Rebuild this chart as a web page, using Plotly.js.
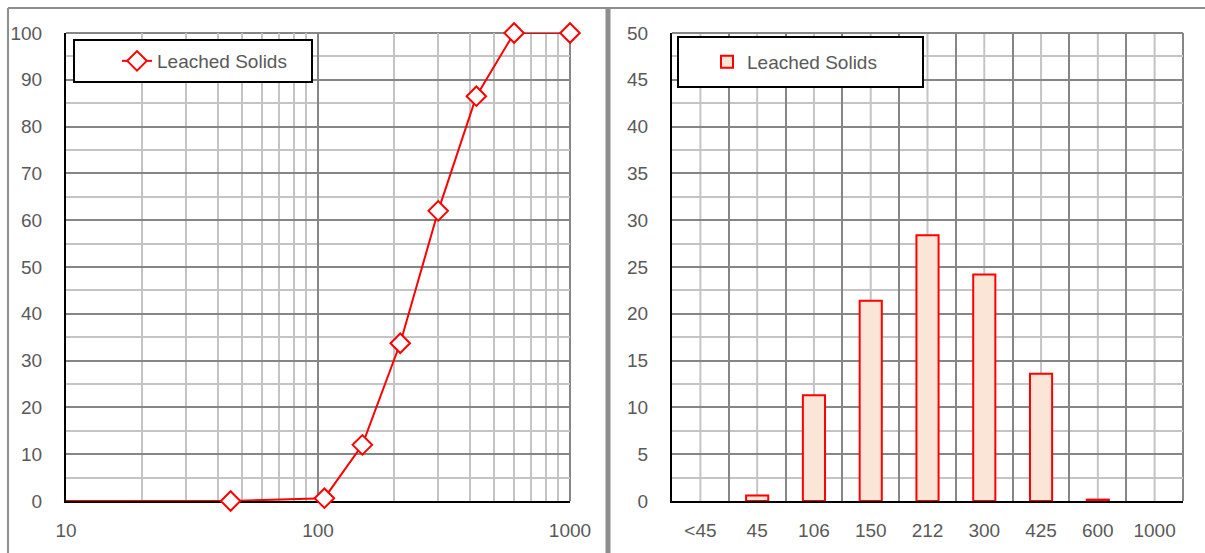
<!DOCTYPE html>
<html>
<head>
<meta charset="utf-8">
<script src="https://cdn.plot.ly/plotly-3.0.1.min.js"></script>
<style>html,body{margin:0;padding:0;background:#fff;}#chart{width:1205px;height:553px;}</style>
</head>
<body>
<div id="chart"></div>
<script>
// ---- data ----
const seriesName = 'Leached Solids';
// cumulative passing (%) vs particle size (micron), left chart
const sizes = [1, 45, 106, 150, 212, 300, 425, 600, 1000];
const cumPassing = [0, 0, 0.6, 12.0, 33.7, 62.0, 86.5, 100, 100];
// fraction retained (%) per size class, right chart
const classes = ['<45', '45', '106', '150', '212', '300', '425', '600', '1000'];
const retained = [0, 0.6, 11.3, 21.4, 28.4, 24.2, 13.6, 0.15, 0];
// tick labels
const logTickVals = [10, 100, 1000];
const logTickText = ['10', '100', '1000'];

// ---- layout helpers ----
const W = 1205, H = 553;
const px = v => v / W;
const py = v => 1 - v / H;
const FONT = '"Liberation Sans", Arial, sans-serif';
const TICKCOL = '#595959';
const DARK = '#868686';
const LIGHT = '#c4c4c4';
const tickfont = {family: FONT, size: 19, color: TICKCOL};

const traces = [
  {
    type: 'scatter', mode: 'lines+markers', name: seriesName,
    x: sizes, y: cumPassing, xaxis: 'x', yaxis: 'y', legend: 'legend',
    cliponaxis: false,
    line: {color: '#ff0000', width: 2},
    marker: {symbol: 'diamond', size: 15, color: '#ffffff', line: {color: '#ff0000', width: 2}}
  },
  {
    type: 'bar', name: seriesName,
    // empty classes (0 %) are not drawn, as in the original
    x: classes, y: retained.map(v => v > 0 ? v : null), xaxis: 'x2', yaxis: 'y2', legend: 'legend2',
    marker: {color: '#fbe5d6', line: {color: '#ff0000', width: 2}}
  }
];

const shapes = [];
// light gridlines at category centres of the bar chart (category index positions)
classes.forEach((c, i) => shapes.push({
  type: 'line', xref: 'x2', yref: 'y2 domain', x0: i, x1: i, y0: 0, y1: 1,
  line: {color: LIGHT, width: 2}, layer: 'below'
}));
// dark top / right borders of both plot areas
['x', 'x2'].forEach((xa, k) => {
  const ya = k === 0 ? 'y' : 'y2';
  shapes.push({type: 'line', xref: xa + ' domain', yref: ya + ' domain', x0: 0, x1: 1, y0: 1, y1: 1, line: {color: DARK, width: 2}, layer: 'below'});
  shapes.push({type: 'line', xref: xa + ' domain', yref: ya + ' domain', x0: 1, x1: 1, y0: 0, y1: 1, line: {color: DARK, width: 2}, layer: 'below'});
});
// panel frames
const FRAME = '#8e8e8e';
shapes.push({type: 'line', xref: 'paper', yref: 'paper', x0: px(8), x1: px(8), y0: py(8), y1: py(560), line: {color: FRAME, width: 2}});
shapes.push({type: 'line', xref: 'paper', yref: 'paper', x0: px(8), x1: px(1210), y0: py(8), y1: py(8), line: {color: FRAME, width: 2}});
shapes.push({type: 'rect', xref: 'paper', yref: 'paper', x0: px(605.5), x1: px(610.5), y0: py(7), y1: py(560), line: {width: 0}, fillcolor: FRAME});
// legend boxes
shapes.push({type: 'rect', xref: 'paper', yref: 'paper', x0: px(74), x1: px(312), y0: py(40), y1: py(82), line: {color: '#000', width: 2}, fillcolor: '#fff', layer: 'above'});
shapes.push({type: 'rect', xref: 'paper', yref: 'paper', x0: px(678), x1: px(923), y0: py(37), y1: py(87), line: {color: '#000', width: 2}, fillcolor: '#fff', layer: 'above'});

const yDom = [py(501), py(33)];
const layout = {
  width: W, height: H,
  margin: {l: 0, r: 0, t: 0, b: 0},
  paper_bgcolor: '#fff', plot_bgcolor: '#fff',
  showlegend: true,
  font: {family: FONT, color: TICKCOL},
  xaxis: {
    domain: [px(66), px(570)], anchor: 'y', type: 'log', range: [1, 3],
    tickmode: 'array', tickvals: logTickVals, ticktext: logTickText,
    showgrid: true, gridcolor: DARK, gridwidth: 2,
    minor: {dtick: 'D1', showgrid: true, gridcolor: LIGHT, gridwidth: 2, ticks: ''},
    showline: true, linecolor: '#000', linewidth: 2, zeroline: false, layer: 'below traces',
    ticks: '', tickfont: tickfont, ticklabelstandoff: 11
  },
  yaxis: {
    domain: yDom, anchor: 'x', range: [0, 100], dtick: 10,
    showgrid: true, gridcolor: DARK, gridwidth: 2,
    minor: {dtick: 5, showgrid: true, gridcolor: LIGHT, gridwidth: 2, ticks: ''},
    showline: true, linecolor: '#000', linewidth: 2, zeroline: false, layer: 'below traces',
    ticks: '', tickfont: tickfont, ticklabelstandoff: 18
  },
  xaxis2: {
    domain: [px(672), px(1183)], anchor: 'y2', type: 'category',
    categoryorder: 'array', categoryarray: classes, range: [-0.5, classes.length - 0.5],
    tickson: 'boundaries', showgrid: true, gridcolor: DARK, gridwidth: 2,
    showline: true, linecolor: '#000', linewidth: 2, zeroline: false,
    ticks: '', tickangle: 0, tickfont: tickfont, ticklabelstandoff: 11
  },
  yaxis2: {
    domain: yDom, anchor: 'x2', range: [0, 50], dtick: 5,
    showgrid: true, gridcolor: DARK, gridwidth: 2,
    minor: {dtick: 2.5, showgrid: true, gridcolor: LIGHT, gridwidth: 2, ticks: ''},
    showline: true, linecolor: '#000', linewidth: 2, zeroline: false,
    ticks: '', tickfont: tickfont, ticklabelstandoff: 18
  },
  bargap: 0.61,
  legend: {
    x: px(117), y: py(61), xanchor: 'left', yanchor: 'middle',
    bgcolor: 'rgba(0,0,0,0)', borderwidth: 0,
    font: {family: FONT, size: 19, color: TICKCOL}
  },
  legend2: {
    x: px(707), y: py(62), xanchor: 'left', yanchor: 'middle',
    bgcolor: 'rgba(0,0,0,0)', borderwidth: 0,
    font: {family: FONT, size: 19, color: TICKCOL}
  },
  shapes: shapes
};

Plotly.newPlot('chart', traces, layout, {displayModeBar: false, staticPlot: true});
</script>
</body>
</html>
